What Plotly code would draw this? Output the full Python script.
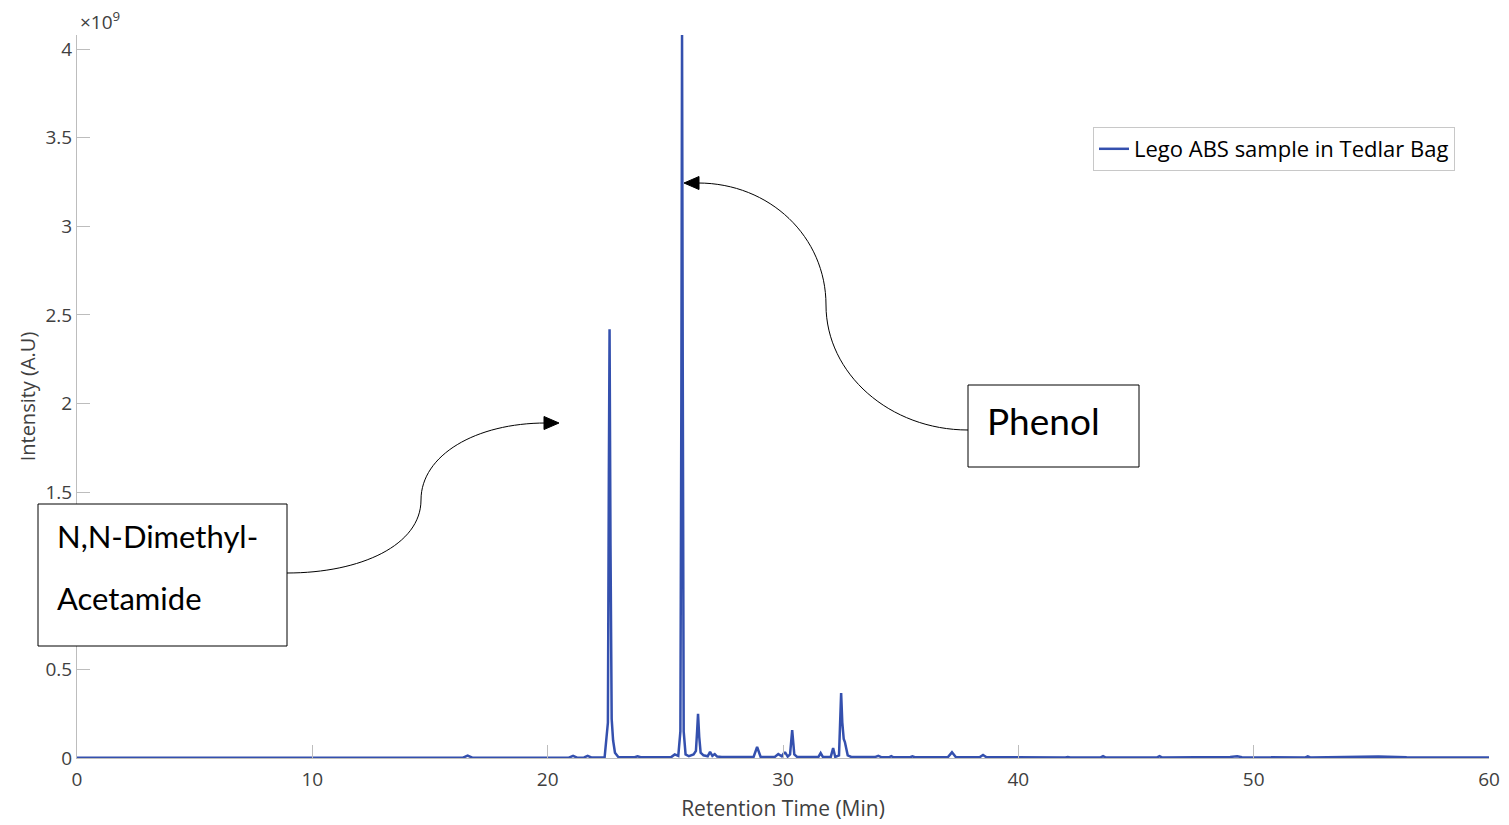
import plotly.graph_objects as go

# ---- data (retention time in min, intensity in units of 1e9 A.U.) ----
retention_time = [0, 8, 16.4, 16.6, 16.8, 20.9, 21.08, 21.25, 21.55, 21.7, 21.85,
                  22.42, 22.5, 22.56, 22.6, 22.63, 22.67, 22.72, 22.78, 22.86, 23.0,
                  23.7, 23.82, 23.95, 25.25, 25.4, 25.55, 25.64, 25.68, 25.71, 25.74,
                  25.78, 25.86, 26.0, 26.2, 26.3, 26.35, 26.39, 26.44, 26.5, 26.62,
                  26.8, 26.9, 27.0, 27.1, 27.2, 27.4, 28.75, 28.9, 29.05, 29.65, 29.8,
                  29.95, 30.05, 30.1, 30.2, 30.3, 30.39, 30.48, 30.6, 31.5, 31.6, 31.7,
                  32.03, 32.13, 32.22, 32.38, 32.44, 32.47, 32.52, 32.58, 32.63, 32.75,
                  32.9, 33.9, 34.05, 34.2, 34.5, 34.6, 34.7, 35.4, 35.5, 35.6, 37.0,
                  37.18, 37.35, 38.35, 38.5, 38.65, 42.0, 42.1, 42.2, 43.5, 43.6, 43.7,
                  45.9, 46.0, 46.1, 47.3, 48.2, 49.0, 49.3, 49.5, 52.2, 52.3, 52.4,
                  54.0, 55.3, 56.5, 60]
intensity_e9 = [0.002, 0.002, 0.002, 0.013, 0.002, 0.002, 0.012, 0.002, 0.003, 0.012, 0.003,
                0.004, 0.12, 0.2, 1.6, 2.42, 1.2, 0.22, 0.1, 0.03, 0.006,
                0.004, 0.01, 0.004, 0.005, 0.02, 0.012, 0.15, 2.0, 4.08, 2.2,
                0.15, 0.02, 0.01, 0.02, 0.04, 0.15, 0.25, 0.12, 0.03, 0.015,
                0.01, 0.035, 0.012, 0.022, 0.008, 0.006, 0.006, 0.062, 0.006, 0.006, 0.022,
                0.01, 0.03, 0.03, 0.008, 0.02, 0.158, 0.02, 0.006, 0.005, 0.028, 0.005,
                0.006, 0.056, 0.006, 0.015, 0.2, 0.367, 0.2, 0.107, 0.09, 0.015,
                0.006, 0.005, 0.012, 0.004, 0.004, 0.01, 0.004, 0.004, 0.009, 0.004, 0.004,
                0.032, 0.004, 0.004, 0.017, 0.004, 0.003, 0.006, 0.003, 0.003, 0.01, 0.003,
                0.003, 0.01, 0.003, 0.004, 0.008, 0.006, 0.01, 0.004, 0.003, 0.009, 0.003,
                0.004, 0.008, 0.004, 0.003]
series_name = "Lego ABS sample in Tedlar Bag"
x_ticks = [0, 10, 20, 30, 40, 50, 60]
x_tick_text = ["0", "10", "20", "30", "40", "50", "60"]
y_ticks = [0, 0.5, 1.5, 2, 2.5, 3, 3.5, 4]
y_tick_text = ["0", "0.5", "1.5", "2", "2.5", "3", "3.5", "4"]
# the tick at 1 sits hidden behind the label box in the original

# ---- layout geometry (pixels) ----
W, H = 1509, 825
ML, MR, MT, MB = 77, 20, 35, 67
PW, PH = W - ML - MR, H - MT - MB


def px(x):
    return (x - ML) / PW


def py(y):
    return (H - MB - y) / PH


FONT = "'Open Sans', sans-serif"
BOXFONT = "Lato, sans-serif"
GREY = "#404040"
AXC = "#bdbdbd"

fig = go.Figure()
fig.add_trace(go.Scatter(x=retention_time, y=intensity_e9, mode="lines",
                         name=series_name, line=dict(color="#3450ae", width=2.5)))

fig.update_layout(
    width=W, height=H,
    margin=dict(l=ML, r=MR, t=MT, b=MB, autoexpand=False),
    plot_bgcolor="white", paper_bgcolor="white",
    font=dict(family=FONT, color=GREY, size=19),
    showlegend=True,
    legend=dict(x=px(1455), xanchor="right", y=py(127), yanchor="top",
                bgcolor="white", bordercolor="#c8c8c8", borderwidth=1,
                font=dict(size=22, color="black", family=FONT),
                itemwidth=30, tracegroupgap=0),
    xaxis=dict(range=[0, 60], tickvals=x_ticks, ticktext=x_tick_text,
               ticks="inside", ticklen=13, ticklabelstandoff=4, automargin=False,
               tickcolor=AXC, showline=True, linecolor=AXC, linewidth=1,
               showgrid=False, zeroline=False, tickfont=dict(size=19, color=GREY),
               title=dict(text="Retention Time (Min)", font=dict(size=21, color=GREY),
                          standoff=10)),
    yaxis=dict(range=[0, 4.08], tickvals=y_ticks, ticktext=y_tick_text,
               ticks="inside", ticklen=13, automargin=False,
               tickcolor=AXC, showline=True, linecolor=AXC, linewidth=1,
               showgrid=False, zeroline=False, tickfont=dict(size=19, color=GREY),
               title=dict(text="Intensity (A.U)", font=dict(size=20, color=GREY),
                          standoff=4)),
)

# exponent label
fig.add_annotation(xref="paper", yref="paper", x=px(78), y=py(21), xanchor="left",
                   yanchor="middle", showarrow=False, text="×10<sup>9</sup>",
                   font=dict(size=19, color=GREY))

# label boxes
fig.add_shape(type="rect", xref="paper", yref="paper", x0=px(38), x1=px(287),
              y0=py(646), y1=py(504), line=dict(color="black", width=1),
              fillcolor="white", layer="above")
fig.add_shape(type="rect", xref="paper", yref="paper", x0=px(968), x1=px(1139),
              y0=py(467), y1=py(385), line=dict(color="black", width=1),
              fillcolor="white", layer="above")

for txt, x0, yc, size in [("N,N-Dimethyl-", 55, 536, 31), ("Acetamide", 55, 598, 31),
                          ("Phenol", 985, 420, 37)]:
    fig.add_annotation(xref="paper", yref="paper", x=px(x0), y=py(yc), xanchor="left",
                       yanchor="middle", showarrow=False, text=txt,
                       font=dict(size=size, color="black", family=BOXFONT))


def bez_path(points):
    (x0, y0) = points[0]
    s = f"M {px(x0)},{py(y0)}"
    for i in range(1, len(points), 3):
        (a, b), (c, d), (e, f) = points[i:i + 3]
        s += f" C {px(a)},{py(b)} {px(c)},{py(d)} {px(e)},{py(f)}"
    return s


def poly_path(points):
    return "M " + " L ".join(f"{px(a)},{py(b)}" for a, b in points) + " Z"


# curved connector for N,N-Dimethyl-Acetamide
fig.add_shape(type="path", xref="paper", yref="paper", layer="above",
              path=bez_path([(287, 573), (361, 573), (421, 545), (421, 500),
                             (421, 455), (476, 423), (546, 423)]),
              line=dict(color="black", width=1))
# curved connector for Phenol
fig.add_shape(type="path", xref="paper", yref="paper", layer="above",
              path=bez_path([(968, 430), (890, 430), (826, 374), (826, 305),
                             (826, 237), (770, 183), (698, 183)]),
              line=dict(color="black", width=1))

# arrow heads (filled triangles)
fig.add_shape(type="path", xref="paper", yref="paper", layer="above",
              path=poly_path([(559, 423), (544, 416.5), (544, 429.5)]),
              fillcolor="black", line=dict(color="black", width=1))
fig.add_shape(type="path", xref="paper", yref="paper", layer="above",
              path=poly_path([(684, 183), (699, 176.5), (699, 189.5)]),
              fillcolor="black", line=dict(color="black", width=1))

fig.write_html("out.html")
